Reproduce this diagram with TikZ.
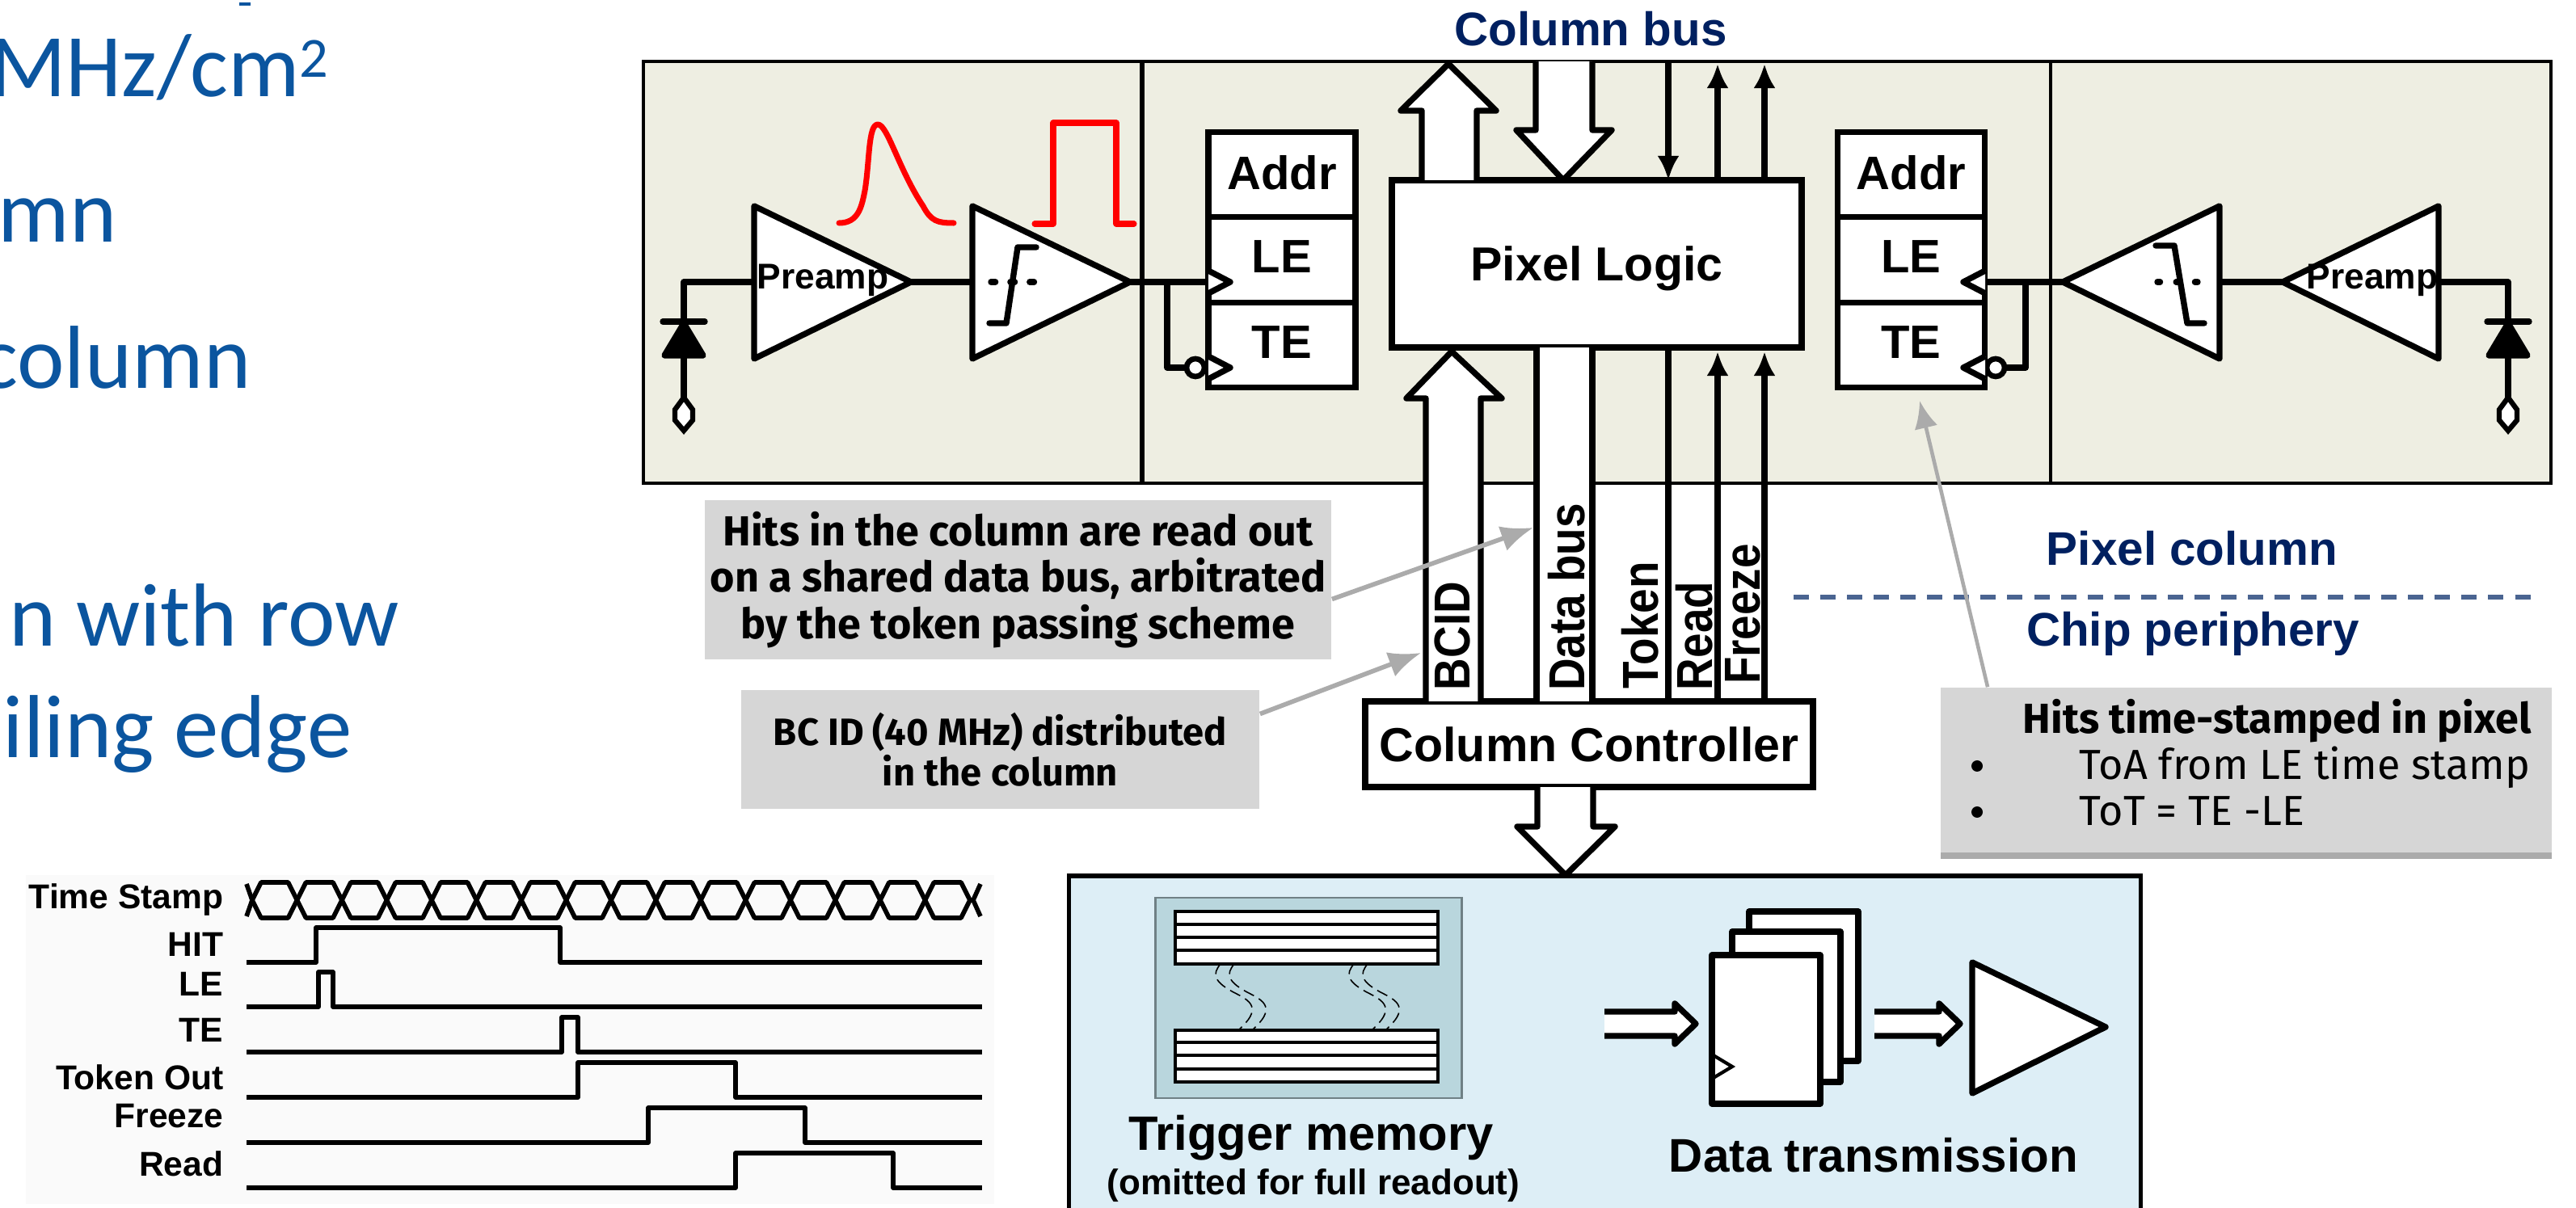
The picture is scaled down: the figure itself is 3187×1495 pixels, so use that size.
\documentclass[tikz,border=0pt]{standalone}
\usepackage{fontspec}
\setmainfont{Liberation Sans}
\newfontfamily\slidefont{Carlito}
\newfontfamily\notefont{Fira Sans}
\usetikzlibrary{arrows.meta,calc}
\definecolor{pixbeige}{HTML}{EEEEE2}
\definecolor{notegrey}{HTML}{D6D6D6}
\definecolor{periblue}{HTML}{DDEEF6}
\definecolor{membg}{HTML}{B9D6DD}
\definecolor{navytext}{HTML}{002060}
\definecolor{sepblue}{HTML}{4A6491}
\definecolor{slideblue}{HTML}{0B559F}
\newcommand{\busword}[1]{\scalebox{1}[1.14]{#1}}
\tikzset{
  wire/.style={line width=2.1pt,line join=round},
  bustip/.style={wire,-{Latex[length=0.3cm,width=0.27cm]}},
  amp/.style={wire,fill=white},
  regcell/.style={draw,line width=2.1pt,fill=white,minimum width=1.82cm,minimum height=1.055cm,
    inner sep=0pt,outer sep=0pt,text depth=0.07cm,font=\fontsize{16.5}{18}\bfseries},
  blockbox/.style={draw,line width=2.1pt,fill=white,inner sep=0pt,outer sep=0pt,text depth=0pt,font=\fontsize{16.8}{18}\bfseries},
  busname/.style={rotate=90,inner sep=0pt,font=\fontsize{15.6}{17}\bfseries},
  bluename/.style={anchor=base,inner sep=0pt,text=navytext,font=\fontsize{16.6}{18}\bfseries},
  notebox/.style={fill=notegrey,inner sep=0pt,align=center,font=\notefont\bfseries},
  notearrow/.style={line width=1.6pt,color=black!33,-{Latex[length=0.4cm,width=0.32cm]}},
  notetext/.style={anchor=base west,inner sep=0pt,font=\notefont\fontsize{14.8}{16}\selectfont},
  slidetext/.style={anchor=base east,inner sep=0pt,text=slideblue,font=\slidefont\fontsize{31.5}{33}\selectfont},
  tlabel/.style={anchor=base east,inner sep=0pt,font=\fontsize{12.1}{13}\bfseries},
  wave/.style={line width=1.6pt,line join=round},
  memrow/.style={line width=1.4pt},
  redpulse/.style={line width=2pt,red,line join=round,line cap=round}
}
\begin{document}
\begin{tikzpicture}[x=0.01cm,y=-0.01cm]
\useasboundingbox (0,0) rectangle (3187,1495);
\node[slidetext] (slideA) at (407,120) {MHz/cm\raisebox{7pt}{\fontsize{20}{20}\selectfont 2}};
\node[slidetext] (slideB) at (145,300) {mn};
\node[slidetext] (slideC) at (311,481) {column};
\node[slidetext] (slideD) at (494,800) {n with row};
\node[slidetext] (slideE) at (436,938) {iling edge};
\node[slidetext] (slideF) at (5,1256) {s};
\fill[slideblue] (296,3) rectangle (310,7);
% pixel column
\node[draw,line width=1.2pt,fill=pixbeige,minimum width=23.58cm,minimum height=5.22cm,outer sep=0pt] (frame) at (1976,337) {};
\draw[line width=1.7pt] (1413,0 |- frame.north) -- (1413,0 |- frame.south);
\draw[line width=0.9pt] (2537,0 |- frame.north) -- (2537,0 |- frame.south);
\node[bluename] (busname) at (1968,57) {Column bus};
\foreach \xb/\xa/\nm in {933/1127/preL,1203/1398/cmpL,3017/2824/preR,2746/2552/cmpR}{
  \coordinate (\nm in) at (\xb,349);
  \draw[amp] (\xb,255) -- (\xa,349) coordinate (\nm) -- (\xb,444) -- cycle;
}
\foreach \xd/\nm in {846/diodeL,3103/diodeR}{
  \coordinate (\nm) at (\xd,398);
  \draw[wire] (\xd,440) -- (\xd,492);
  \draw[wire,fill=black] (\xd,400) -- (\xd+24,440) -- (\xd-24,440) -- cycle;
  \draw[wire,line cap=round] (\xd-26,398) -- (\xd+26,398);
  \draw[line width=1.8pt,fill=white] (\xd,492) -- (\xd+11,507) -- (\xd+11,520) -- (\xd,533)
    -- (\xd-11,520) -- (\xd-11,507) -- cycle;
}
\draw[wire] (diodeL) |- (preLin);
\draw[wire] (diodeR) |- (preRin);
\draw[wire] (preL) -- (cmpLin);
\draw[wire] (preR) -- (cmpRin);
\node[anchor=base,inner sep=0pt,font=\fontsize{12.6}{14}\bfseries] (preampL) at (1018,358) {Preamp};
\node[anchor=base,inner sep=0pt,font=\fontsize{12.6}{14}\bfseries] (preampR) at (2935,358) {Preamp};
\draw[wire,line cap=round,dash pattern=on 1.6pt off 5.2pt] (1226,349) -- (1284,349);
\draw[wire,line cap=round] (1224,400) -- (1245,400) -- (1259,306) -- (1282,306);
\draw[wire,line cap=round,dash pattern=on 1pt off 5.6pt] (2669,349) -- (2727,349);
\draw[wire,line cap=round] (2667,304) -- (2690,304) -- (2706,400) -- (2727,400);
\draw[redpulse] (1038,276) .. controls (1062,276) and (1066,256) .. (1070,236)
  .. controls (1076,200) and (1074,154) .. (1086,154)
  .. controls (1098,154) and (1112,210) .. (1142,255)
  .. controls (1152,274) and (1160,276) .. (1180,276);
\draw[redpulse] (1280,277) -- (1303,277) -- (1303,152) -- (1381,152) -- (1381,277) -- (1403,277);
% registers
\foreach \xc/\sd in {1586/L,2364.5/R}{
  \node[regcell] (addr\sd) at (\xc,216.5) {Addr};
  \node[regcell] (le\sd) at (\xc,321.5) {LE};
  \node[regcell] (te\sd) at (\xc,427) {TE};
}
\draw[wire] (cmpL) -- (cmpL -| leL.west);
\draw[wire] (cmpR) -- (cmpR -| leR.east);
\coordinate (tapL) at (1444,349);
\coordinate (tapR) at (2506,349);
\node[draw,circle,line width=1.9pt,fill=white,minimum size=0.22cm,inner sep=0pt,outer sep=0pt] (bubL) at (1479,455) {};
\node[draw,circle,line width=1.9pt,fill=white,minimum size=0.22cm,inner sep=0pt,outer sep=0pt] (bubR) at (2469,455) {};
\draw[wire] (tapL) |- (bubL.west);
\draw[wire] (tapR) |- (bubR.east);
\draw[wire,fill=white] (1495,335) -- (1522,349) -- (1495,363);
\draw[wire,fill=white] (1495,441) -- (1522,455) -- (1495,469);
\draw[wire,fill=white] (2456,335) -- (2429,349) -- (2456,363);
\draw[wire,fill=white] (2456,441) -- (2429,455) -- (2456,469);
% pixel logic and buses
\node[blockbox,minimum width=5.07cm,minimum height=2.07cm] (pixlogic) at (1975.5,326.5) {Pixel Logic};
\node[blockbox,minimum width=5.54cm,minimum height=1.06cm] (colctrl) at (1966,921) {Column Controller};
\draw[wire,fill=white] (1759,0 |- pixlogic.north) -- (1759,137) -- (1733,137) -- (1792,79) -- (1851,137) -- (1827,137) -- (1827,0 |- pixlogic.north);
\draw[wire,fill=white] (1900,0 |- frame.north) -- (1900,161) -- (1876,161) -- (1934,0 |- pixlogic.north) -- (1994,161) -- (1970,161) -- (1970,0 |- frame.north);
\draw[bustip] (2064,0 |- frame.north) -- (2064,0 |- pixlogic.north);
\draw[bustip] (2125,0 |- pixlogic.north) -- (2125,79);
\draw[bustip] (2183,0 |- pixlogic.north) -- (2183,79);
\draw[wire,fill=white] (1764,0 |- colctrl.north) -- (1764,493) -- (1740,493) -- (1796,435) -- (1858,493) -- (1832,493) -- (1832,0 |- colctrl.north);
\fill[white] (1901,0 |- pixlogic.south) rectangle (1970,0 |- colctrl.north);
\draw[wire] (1901,0 |- pixlogic.south) -- (1901,0 |- colctrl.north);
\draw[wire] (1970,0 |- pixlogic.south) -- (1970,0 |- colctrl.north);
\draw[wire] (2064,0 |- pixlogic.south) -- (2064,0 |- colctrl.north);
\draw[bustip] (2125,0 |- colctrl.north) -- (2125,435);
\draw[bustip] (2183,0 |- colctrl.north) -- (2183,435);
\node[busname] (nameBCID) at (1797,787) {\busword{BCID}};
\node[busname] (nameData) at (1938,739) {\busword{Data bus}};
\node[busname] (nameToken) at (2029,774) {\busword{Token}};
\node[busname] (nameRead) at (2096,787) {\busword{Read}};
\node[busname] (nameFreeze) at (2156,760) {\busword{Freeze}};
\draw[wire,fill=white] (1902,0 |- colctrl.south) -- (1902,1023) -- (1877,1023) -- (1937,1083) -- (1998,1023) -- (1971,1023) -- (1971,0 |- colctrl.south);
% side notes
\coordinate (tipData) at (1897,653);
\coordinate (tipBCID) at (1758,808);
\coordinate (tipTE) at (2375,496);
\node[notebox,minimum width=7.75cm,minimum height=1.97cm,font=\notefont\fontsize{14.8}{16.4}\bfseries] (noteData) at (1259.5,717.5)
  {Hits in the column are read out\\on a shared data bus, arbitrated\\by the token passing scheme};
\node[notebox,minimum width=6.41cm,minimum height=1.47cm,font=\notefont\fontsize{13.4}{14.2}\bfseries] (noteBCID) at (1237.5,927.5)
  {BC ID (40 MHz) distributed\\in the column};
\fill[black!33] (2401,1050) rectangle (3157,1063);
\node[fill=notegrey,minimum width=7.56cm,minimum height=2.04cm,inner sep=0pt] (noteTE) at (2779,953) {};
\node[notetext,font=\notefont\fontsize{14.8}{16}\bfseries] (hitsline) at (2502,908) {Hits time-stamped in pixel};
\node[notetext] (toaline) at (2572,965) {ToA from LE time stamp};
\node[notetext] (totline) at (2572,1022) {ToT = TE -LE};
\fill (2446,948) circle (7);
\fill (2446,1005) circle (7);
\draw[notearrow] ($(noteData.east)+(0,24)$) -- (tipData);
\draw[notearrow] ($(noteBCID.east)+(0,-44)$) -- (tipBCID);
\node[bluename] (namePixel) at (2712,700) {Pixel column};
\node[bluename] (nameChip) at (2713,800) {Chip periphery};
\coordinate (sepL) at (2219,739);
\coordinate (sepR) at (3139,739);
\draw[line width=1.6pt,color=sepblue,dash pattern=on 5.4pt off 4pt] (sepL) -- (sepR);
\draw[notearrow,line width=1.3pt,-{Latex[length=0.34cm,width=0.29cm]}] ($(noteTE.north west)+(59,0)$) -- (tipTE);
% periphery
\node[draw,line width=1.6pt,fill=periblue,minimum width=13.25cm,minimum height=4.3cm,outer sep=0pt] (periphery) at (1985.5,1299) {};
\node[draw=membg!60!black,line width=0.8pt,fill=membg,minimum width=3.78cm,minimum height=2.48cm,outer sep=0pt] (trigmem) at (1619,1235) {};
\foreach \yt/\yb/\ya/\yc/\yd in {1128/1193/1144/1160/1176,1275/1339/1290/1306/1323}{
  \draw[memrow,fill=white] (1454,\yt) rectangle (1779,\yb);
  \draw[memrow] (1454,\ya) -- (1779,\ya) (1454,\yc) -- (1779,\yc) (1454,\yd) -- (1779,\yd);
}
\foreach \xo in {0,17,165,182}{
  \draw[line width=0.45pt,dash pattern=on 4pt off 2pt] (\xo+1510,1193) .. controls (\xo+1500,1205) and (\xo+1500,1215) .. (\xo+1530,1230)
    .. controls (\xo+1550,1240) and (\xo+1560,1250) .. (\xo+1532,1275);
}
\node[anchor=base,inner sep=0pt,font=\fontsize{17}{19}\bfseries] (trigname) at (1622,1423) {Trigger memory};
\node[anchor=base,inner sep=0pt,font=\fontsize{12.5}{14}\bfseries] (trignote) at (1625,1478) {(omitted for full readout)};
\foreach \xs/\xt/\yh in {1985/2098/1267,2319/2425/1267}{
  \draw[wire,fill=white] (\xs,\yh-15) -- (\xt-26,\yh-15) -- (\xt-26,\yh-25) -- (\xt,\yh) -- (\xt-26,\yh+25) -- (\xt-26,\yh+15) -- (\xs,\yh+15);
}
\draw[wire,fill=white] (2164,1128) rectangle (2299,1313);
\draw[wire,fill=white] (2143,1153) rectangle (2277,1339);
\draw[wire,fill=white] (2118,1182) rectangle (2252,1366);
\draw[line width=1.2pt] (2118,1305) -- (2143,1320) -- (2118,1335);
\draw[wire,fill=white] (2440,1191) -- (2605,1271) coordinate (txout) -- (2440,1353) -- cycle;
\node[anchor=base,inner sep=0pt,font=\fontsize{16.6}{18}\bfseries] (txname) at (2318,1450) {Data transmission};
% timing diagram
\fill[black!2] (32,1083) rectangle (1230,1490);
\node[tlabel] (labStamp) at (277,1125) {Time Stamp};
\foreach \i in {0,...,15}{
  \pgfmathsetmacro\xa{312+55.5*\i}
  \pgfmathsetmacro\xb{\xa+55.5}
  \draw[wave] (\xa,1114) -- (\xa+11,1092) -- (\xb-11,1092) -- (\xb,1114) -- (\xb-11,1136) -- (\xa+11,1136) -- cycle;
}
\draw[wave] (305,1094) -- (312,1114) -- (305,1134);
\draw[wave] (1213,1094) -- (1204,1114) -- (1213,1134);
\foreach \nm/\lab/\base/\low/\up/\fall in {Hit/HIT/1183/1191/391/693,Le/LE/1232/1246/394/412,Te/TE/1290/1302/695/715,
    Tok/Token Out/1348/1358/715/910,Frz/Freeze/1396/1414/802/996,Rd/Read/1455/1470/910/1105}{
  \node[tlabel] (lab\nm) at (277,\base) {\lab};
  \draw[wave] (305,\low) -- (\up,\low) -- (\up,\low-43) -- (\fall,\low-43) -- (\fall,\low) -- (1215,\low);
}
\end{tikzpicture}
\end{document}
